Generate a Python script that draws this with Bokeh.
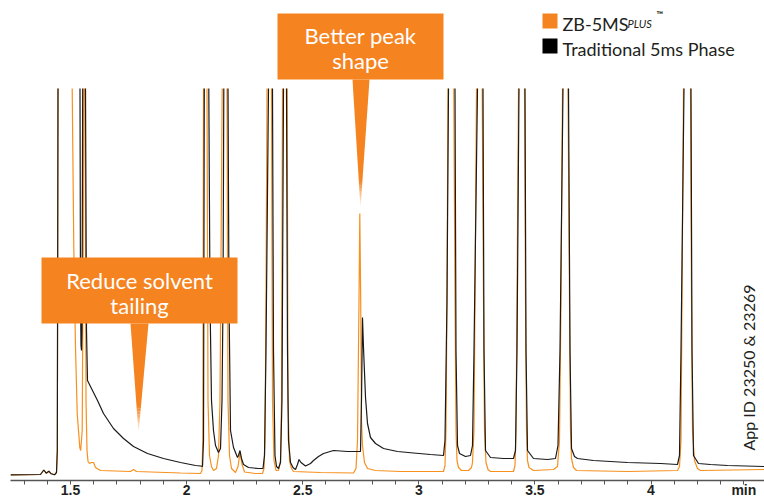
import math
from bokeh.plotting import figure
from bokeh.models import Range1d, FixedTicker
from bokeh.core.properties import value
from bokeh.embed import file_html
from bokeh.resources import INLINE

nan = float("nan")

# Retention time (min) and detector response (arbitrary units).
# Off-scale peaks run up to the display ceiling and the trace breaks (nan)
# until it comes back down on the other side of the peak.
zb5msplus_time = [
    1.2416, 1.3708, 1.3850, 1.3954, 1.4066, 1.4169, 1.4311, 1.4397, 1.4432, 1.4462, nan,
    1.5073, 1.5142, 1.5215, 1.5289, 1.5401, 1.5439, 1.5504, 1.5547, 1.5573, nan,
    1.5625, 1.5668, 1.5711, 1.5754, 1.5818, 1.5904, 1.5991, 1.6077, 1.6292, 1.7584, 1.7713,
    1.7842, 1.9737, 2.0599, 2.0663, 2.0698, 2.0728, nan,
    2.0879, 2.0922, 2.0986, 2.1072, 2.1158, 2.1288, 2.1374, 2.1438, 2.1533, nan,
    2.1740, 2.1783, 2.1848, 2.1934, 2.2106, 2.2214, 2.2300, 2.2386, 2.2494, 2.2967, 2.3269,
    2.3333, 2.3376, 2.3419, 2.3463, nan,
    2.3656, 2.3699, 2.3764, 2.3850, 2.3958, 2.4044, 2.4087, 2.4130, nan,
    2.4332, 2.4367, 2.4432, 2.4518, 2.4604, 2.5767, 2.7188, 2.7295, 2.7360, 2.7425, 2.7459,
    2.7498, 2.7532, 2.7575, 2.7661, 2.7791, 2.8135, 2.9212, 3.1064, 3.1128, 3.1171, 3.1214,
    3.1257, nan,
    3.1507, 3.1559, 3.1602, 3.1645, 3.1710, 3.1839, 3.2140, 3.2270, 3.2313, 3.2377, 3.2420,
    3.2485, nan,
    3.2730, 3.2786, 3.2829, 3.2894, 3.2980, 3.3088, 3.4078, 3.4143, 3.4186, 3.4229, 3.4294, nan,
    3.4552, 3.4595, 3.4638, 3.4681, 3.4746, 3.4940, 3.5801, 3.5973, 3.6059, 3.6124, 3.6189, nan,
    3.6425, 3.6490, 3.6533, 3.6576, 3.6662, 3.6791, 3.8988, 4.1141, 4.1227, 4.1292, 4.1335,
    4.1400, nan,
    4.1701, 4.1744, 4.1787, 4.1873, 4.2002, 4.2132, 4.4888,
]
zb5msplus_signal = [
    5.7, 6.0, 10.5, 7.3, 9.3, 6.7, 5.7, 8.0, 30, 392, nan,
    392, 233, 133, 67, 33, 30, 50, 233, 392, nan,
    392, 80, 30, 19, 17, 18, 18, 13, 10, 9, 11,
    9, 7.5, 7, 10, 40, 392, nan,
    392, 80, 25, 14, 10, 12, 25, 80, 392, nan,
    392, 80, 25, 12, 8, 14, 28, 16, 8.5, 7, 7,
    12, 40, 180, 392, nan,
    392, 80, 20, 10, 10, 20, 80, 392, nan,
    392, 80, 20, 12, 9, 8, 7.5, 12, 40, 180, 267,
    180, 60, 35, 18, 12, 10, 9, 9, 15, 50, 180,
    392, nan,
    392, 180, 50, 20, 13, 10, 10, 13, 18, 50, 180,
    392, nan,
    392, 180, 50, 18, 11, 9, 9, 15, 50, 180, 392, nan,
    392, 180, 50, 20, 13, 10, 11, 14, 40, 180, 392, nan,
    392, 180, 50, 22, 13, 10, 9, 10, 14, 40, 180,
    392, nan,
    392, 180, 50, 20, 12, 10, 11,
]

trad5ms_time = [
    1.2416, 1.3708, 1.3850, 1.3954, 1.4066, 1.4169, 1.4311, 1.4397, 1.4432, 1.4462, nan,
    1.5409, 1.5431, 1.5452, 1.5474, 1.5495, 1.5525, nan,
    1.5646, 1.5689, 1.5732, 1.5861, 1.6163, 1.6421, 1.6852, 1.7283, 1.7713, 1.8316, 1.9005,
    1.9737, 2.0383, 2.0599, 2.0685, 2.0728, 2.0762, nan,
    2.0956, 2.1008, 2.1072, 2.1158, 2.1245, 2.1374, 2.1460, 2.1525, 2.1568, 2.1602, nan,
    2.1783, 2.1826, 2.1891, 2.2020, 2.2192, 2.2235, 2.2300, 2.2364, 2.2450, 2.2666, 2.3096,
    2.3290, 2.3355, 2.3419, 2.3527, nan,
    2.3699, 2.3742, 2.3807, 2.3872, 2.3958, 2.4044, 2.4108, 2.4173, nan,
    2.4302, 2.4345, 2.4388, 2.4475, 2.4582, 2.4690, 2.4776, 2.4841, 2.4927, 2.5121, 2.5336,
    2.5465, 2.5680, 2.5896, 2.6326, 2.6929, 2.7489, 2.7532, 2.7575, 2.7618, 2.7705, 2.7791,
    2.7920, 2.8135, 2.8480, 2.9083, 2.9772, 3.0504, 3.1064, 3.1128, 3.1214, 3.1279, nan,
    3.1559, 3.1602, 3.1667, 3.1753, 3.2011, 3.2226, 3.2313, 3.2377, 3.2528, nan,
    3.2765, 3.2808, 3.2872, 3.3088, 3.3648, 3.4078, 3.4164, 3.4229, 3.4315, nan,
    3.4574, 3.4617, 3.4681, 3.4940, 3.5543, 3.5887, 3.5995, 3.6081, 3.6210, nan,
    3.6447, 3.6512, 3.6576, 3.6705, 3.6835, 3.7524, 3.8988, 4.0409, 4.1141, 4.1227, 4.1292,
    4.1421, nan,
    4.1722, 4.1766, 4.1830, 4.2045, 4.2562, 4.3294, 4.4888,
]
trad5ms_signal = [
    5.7, 6.0, 10.5, 7.3, 9.3, 6.7, 5.7, 8.0, 30, 392, nan,
    392, 180, 135, 130, 150, 392, nan,
    392, 150, 100, 94, 80, 67, 52, 42, 34, 27, 22,
    18, 15, 14.5, 14, 40, 392, nan,
    392, 180, 80, 50, 35, 28, 32, 80, 180, 392, nan,
    392, 180, 50, 33, 23, 25, 30, 22, 16, 13, 12,
    12, 25, 130, 392, nan,
    392, 130, 25, 14, 12, 18, 80, 392, nan,
    392, 130, 40, 18, 13, 11, 16, 21, 18, 14.5, 17,
    20, 24, 27, 30, 29, 29, 80, 163, 133, 83, 57,
    43, 37, 32, 29, 27.5, 26, 25, 40, 180, 392, nan,
    392, 130, 35, 27, 24, 25, 35, 130, 392, nan,
    392, 130, 30, 23, 22, 22, 30, 130, 392, nan,
    392, 130, 30, 22, 21, 22, 35, 130, 392, nan,
    392, 130, 32, 24, 22, 20, 18, 17, 16, 25, 130,
    392, nan,
    392, 130, 25, 17, 16, 15, 14,
]

tick_values = [1.5, 2.0, 2.5, 3.0, 3.5, 4.0, 4.4]
tick_labels = ["1.5", "2", "2.5", "3", "3.5", "4", "min"]
minor_tick_values = [1.3, 1.4, 1.6, 1.7, 1.8, 1.9, 2.1, 2.2, 2.3, 2.4, 2.6, 2.7, 2.8, 2.9,
                     3.1, 3.2, 3.3, 3.4, 3.6, 3.7, 3.8, 3.9, 4.1, 4.2, 4.3]

series_names = ["ZB-5MS", "Traditional 5ms Phase"]

ORANGE = "#F5831F"
LINE_ORANGE = "#F7901E"
BLACK = "#1A1A1A"
TEXT = "#231F20"
FONT = "Lato"

p = figure(width=764, height=502, x_range=Range1d(1.2416, 4.4888), y_range=Range1d(0, 480),
           output_backend="svg", toolbar_location=None, y_axis_location=None,
           min_border_left=10, min_border_right=0, min_border_top=0, min_border_bottom=22)
p.outline_line_color = None
p.grid.visible = False
p.background_fill_color = "white"
p.border_fill_color = "white"

ax = p.xaxis[0]
ax.ticker = FixedTicker(ticks=tick_values, minor_ticks=minor_tick_values)
ax.major_label_overrides = {t: l for t, l in zip(tick_values, tick_labels)}
ax.major_label_text_font = "Liberation Sans"
ax.major_label_text_font_style = "bold"
ax.major_label_text_font_size = "14px"
ax.major_label_text_color = TEXT
ax.major_label_standoff = -3
ax.axis_line_color = "#555555"
ax.axis_line_width = 1.5
ax.major_tick_line_color = "#555555"
ax.minor_tick_line_color = "#555555"
ax.major_tick_in = 0
ax.major_tick_out = 4
ax.minor_tick_in = 0
ax.minor_tick_out = 4

# chromatogram traces
p.line(zb5msplus_time, zb5msplus_signal, line_color=LINE_ORANGE, line_width=1.2)
p.line(trad5ms_time, trad5ms_signal, line_color=BLACK, line_width=1.2)


def pointer(x0, x1, y_base, x_tip, y_tip, solid=0.78, steps=10):
    """Tapered callout pointer that fades out towards its tip."""
    fr = [0.0, solid] + [solid + (1 - solid) * (i + 1) / steps for i in range(steps)]
    xs, ys, alphas = [], [], []
    for k in range(len(fr) - 1):
        a, b = fr[k], fr[k + 1]
        la, ra, ya = x0 + (x_tip - x0) * a, x1 + (x_tip - x1) * a, y_base + (y_tip - y_base) * a
        lb, rb, yb = x0 + (x_tip - x0) * b, x1 + (x_tip - x1) * b, y_base + (y_tip - y_base) * b
        xs.append([la, ra, rb, lb])
        ys.append([ya, ya, yb, yb])
        alphas.append(1.0 if k == 0 else max(0.0, 1 - (k - 0.5) / steps))
    p.patches(xs, ys, fill_color=ORANGE, fill_alpha=alphas, line_color=None)


def callout(left, right, bottom, top, lines, baselines):
    p.quad(left=[left], right=[right], bottom=[bottom], top=[top],
           fill_color=ORANGE, line_color=None)
    cx = (left + right) / 2
    p.text(x=[cx] * len(lines), y=baselines, text=lines, text_font=value(FONT),
           text_font_size="22px", text_color="white", text_align="center",
           text_baseline="alphabetic")


# "Better peak shape" callout
pointer(2.7145, 2.7877, 401, 2.7489, 272)
callout(2.3915, 3.1064, 401, 467, ["Better peak", "shape"], [445, 420])

# "Reduce solvent tailing" callout
pointer(1.7584, 1.8359, 157, 1.7929, 47, solid=0.75)
callout(1.3751, 2.2192, 157, 223, ["Reduce solvent", "tailing"], [200, 175])

# legend
p.scatter(x=[3.5650, 3.5650], y=[459.5, 434.5], marker="square", size=15,
          fill_color=[ORANGE, "black"], line_color=None)
p.text(x=[3.6189, 3.6189], y=[457, 432], text=[series_names[0], series_names[1]],
       text_font=value(FONT), text_font_size="18px", text_color=TEXT,
       text_baseline="alphabetic")
p.text(x=[3.6189], y=[457], text=["PLUS"], x_offset=65, text_font=value(FONT),
       text_font_size="11px", text_font_style="italic", text_color=TEXT,
       text_baseline="alphabetic")
p.text(x=[3.6189], y=[466], text=["\u2122"], x_offset=94, text_font=value(FONT),
       text_font_size="9px", text_font_style="bold", text_color=TEXT,
       text_baseline="alphabetic")

# application reference
p.text(x=[4.4199], y=[113], text=["App ID 23250 & 23269"], angle=math.pi / 2,
       text_font=value(FONT), text_font_size="16px", text_color=TEXT,
       text_align="center", text_baseline="middle")

open("out.html", "w").write(file_html(p, INLINE))
